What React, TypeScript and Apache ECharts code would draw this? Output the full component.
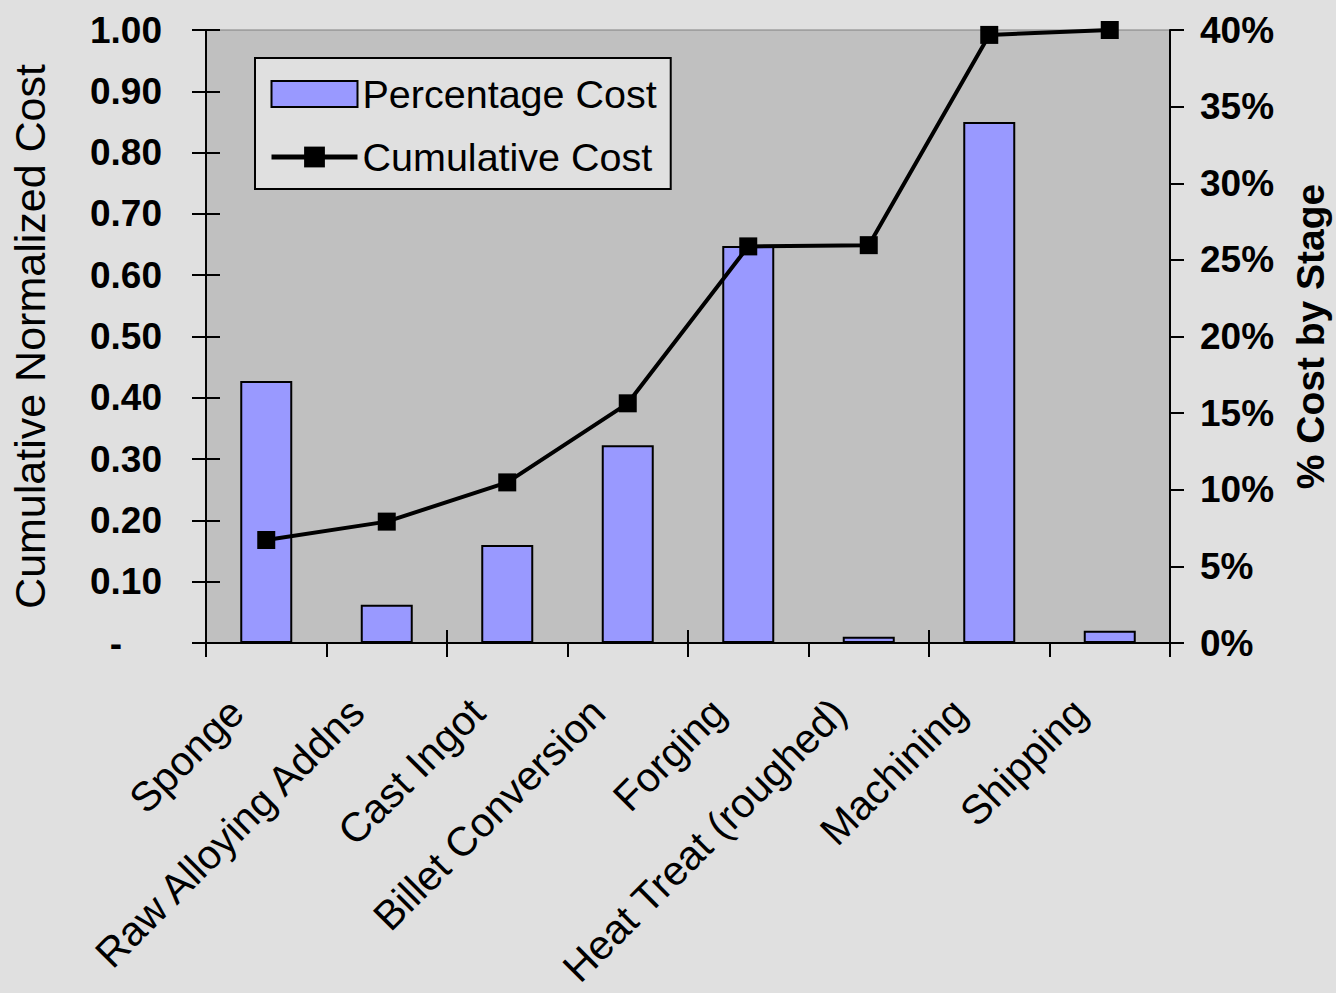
import React, { useEffect, useRef } from "react";
import * as echarts from "echarts";

// Cost build-up of a part through its production stages
const categories = [
  "Sponge",
  "Raw Alloying Addns",
  "Cast Ingot",
  "Billet Conversion",
  "Forging",
  "Heat Treat (roughed)",
  "Machining",
  "Shipping",
];

// share of total cost added at each stage, in percent (right axis)
const percentageCost = [17.1, 2.5, 6.4, 12.9, 25.9, 0.4, 34.0, 0.8];

// running total of normalized cost (left axis)
const cumulativeCost = [0.168, 0.198, 0.262, 0.391, 0.647, 0.649, 0.992, 1.0];

// tick labels of the left axis, from 0 to 1.00
const leftTickLabels = ["-", "0.10", "0.20", "0.30", "0.40", "0.50", "0.60", "0.70", "0.80", "0.90", "1.00"];

// tick labels of the right axis, from 0% to 40%
const rightTickLabels = ["0%", "5%", "10%", "15%", "20%", "25%", "30%", "35%", "40%"];

const FONT = "'Liberation Sans', Arial, Helvetica, sans-serif";

export default function App() {
  const ref = useRef<HTMLDivElement>(null);

  useEffect(() => {
    if (!ref.current) return;
    const chart = echarts.init(ref.current, null, { renderer: "svg" });

    const tickStyle = { color: "#000", width: 2 };

    chart.setOption({
      animation: false,
      backgroundColor: "#e0e0e0",
      textStyle: { fontFamily: FONT, color: "#000" },
      grid: {
        left: 206,
        top: 30,
        width: 964,
        height: 613,
        outerBoundsMode: "none",
        show: true,
        backgroundColor: "#c0c0c0",
        borderColor: "#808080",
        borderWidth: 1,
      },
      legend: {
        data: [
          { name: "Percentage Cost", icon: "rect" },
          { name: "Cumulative Cost" },
        ],
        orient: "vertical",
        left: 255,
        top: 58,
        itemWidth: 86,
        itemHeight: 26,
        itemGap: 23,
        padding: [16, 14, 12, 14],
        backgroundColor: "#e0e0e0",
        borderColor: "#000",
        borderWidth: 2,
        lineStyle: { width: 5, color: "#000" },
        textStyle: { fontFamily: FONT, fontSize: 39.5, color: "#000" },
      },
      xAxis: [
        {
          type: "category",
          data: categories,
          position: "bottom",
          axisLine: { show: true, lineStyle: tickStyle },
          axisTick: { show: true, inside: false, length: 14, lineStyle: tickStyle },
          axisLabel: {
            interval: 0,
            rotate: 45,
            margin: 33,
            padding: [0, 42, 0, 0],
            fontFamily: FONT,
            fontSize: 41,
            color: "#000",
          },
          splitLine: { show: false },
        },
        {
          // inner half of the category separators
          type: "category",
          data: categories,
          position: "bottom",
          axisLine: { show: false },
          axisTick: { show: true, inside: true, length: 13, lineStyle: tickStyle },
          axisLabel: { show: false },
          splitLine: { show: false },
        },
      ],
      yAxis: [
        {
          type: "value",
          position: "left",
          min: 0,
          max: 1,
          interval: 0.1,
          axisLine: { show: true, lineStyle: tickStyle },
          axisTick: { show: true, inside: false, length: 14, lineStyle: tickStyle },
          axisLabel: {
            margin: 44,
            fontFamily: FONT,
            fontSize: 37,
            fontWeight: "bold",
            color: "#000",
            formatter: (v: number) => {
              const i = Math.round(v * 10);
              return i === 0 ? "{dash|" + leftTickLabels[0] + "}" : leftTickLabels[i];
            },
            rich: {
              dash: {
                fontFamily: FONT,
                fontSize: 37,
                fontWeight: "bold",
                color: "#000",
                padding: [0, 40, 0, 0],
              },
            },
          },
          splitLine: { show: false },
          name: "Cumulative Normalized Cost",
          nameLocation: "middle",
          nameRotate: 90,
          nameGap: 155,
          nameTextStyle: { fontFamily: FONT, fontSize: 43, color: "#000" },
        },
        {
          type: "value",
          position: "right",
          min: 0,
          max: 40,
          interval: 5,
          axisLine: { show: true, lineStyle: tickStyle },
          axisTick: { show: true, inside: false, length: 14, lineStyle: tickStyle },
          axisLabel: {
            margin: 30,
            fontFamily: FONT,
            fontSize: 37,
            fontWeight: "bold",
            color: "#000",
            formatter: (v: number) => rightTickLabels[Math.round(v / 5)],
          },
          splitLine: { show: false },
          name: "% Cost by Stage",
          nameLocation: "middle",
          nameRotate: 90,
          nameGap: 121,
          nameTextStyle: { fontFamily: FONT, fontSize: 39, fontWeight: "bold", color: "#000" },
        },
        {
          // inner half of the left axis ticks
          type: "value",
          position: "left",
          min: 0,
          max: 1,
          interval: 0.1,
          axisLine: { show: false },
          axisTick: { show: true, inside: true, length: 14, lineStyle: tickStyle },
          axisLabel: { show: false },
          splitLine: { show: false },
        },
      ],
      series: [
        {
          name: "Percentage Cost",
          type: "bar",
          xAxisIndex: 0,
          yAxisIndex: 1,
          data: percentageCost,
          barWidth: 52,
          itemStyle: { color: "#9999ff", borderColor: "#000", borderWidth: 2 },
        },
        {
          name: "Cumulative Cost",
          type: "line",
          xAxisIndex: 0,
          yAxisIndex: 0,
          data: cumulativeCost,
          symbol: "rect",
          symbolSize: 18,
          z: 5,
          lineStyle: { color: "#000", width: 4 },
          itemStyle: { color: "#000" },
        },
      ],
    });

    return () => chart.dispose();
  }, []);

  return (
    <div
      ref={ref}
      style={{ position: "fixed", left: 0, top: 0, width: 1336, height: 993 }}
    />
  );
}
